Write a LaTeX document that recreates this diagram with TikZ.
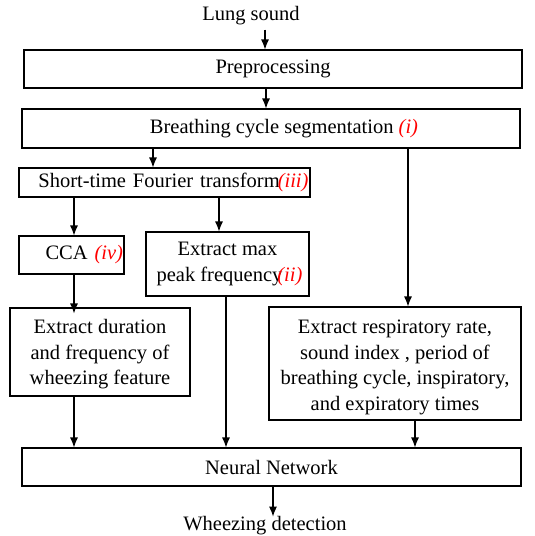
\documentclass[tikz,border=0pt]{standalone}
\usepackage{fontspec}
\setmainfont{Liberation Serif}
\usetikzlibrary{arrows.meta}
\newcommand{\rlab}[1]{\textcolor{red}{\itshape #1}}
\begin{document}
\begin{tikzpicture}[x=1pt,y=-1pt,
  box/.style={draw,line width=1.1pt,inner sep=0pt,align=center,font=\fontsize{20.5}{25.5}\selectfont},
  plain/.style={inner sep=0pt,font=\fontsize{20.5}{25.5}\selectfont},
  arr/.style={line width=1.1pt,-{Latex[length=10pt,width=8pt]}}]
\useasboundingbox (0,0) rectangle (535,536);
\node[plain,anchor=base] (lung) at (251,20) {Lung sound};
\node[box,minimum width=498pt,minimum height=38pt] (pre) at (273,69) {Preprocessing};
\node[box,minimum width=498pt,minimum height=39pt] (seg) at (271,128.5) {\hspace*{26pt}Breathing cycle segmentation \rlab{(i)}};
\node[box,minimum width=291pt,minimum height=29pt,text width=288pt,align=right] (stft) at (164.5,182.5) {Short-time Fourier transform\kern-2pt\rlab{(iii)}};
\node[box,minimum width=105pt,minimum height=38pt,text width=103pt,align=right] (cca) at (71.5,255) {CCA \rlab{(iv)}};
\node[box,minimum width=163pt,minimum height=64pt] (peak) at (227.5,264) {Extract max\\\hspace*{4pt}peak frequency\kern-5pt\rlab{(ii)}};
\node[box,minimum width=180pt,minimum height=88pt] (dur) at (100,352) {\rule{0pt}{19pt}Extract duration\\and frequency of\\wheezing feature};
\node[box,minimum width=252pt,minimum height=113pt] (resp) at (395,363.5) {\rule{0pt}{21pt}Extract respiratory rate,\\sound index , period of\\breathing cycle, inspiratory,\\and expiratory times};
\node[box,minimum width=499pt,minimum height=38pt] (nn) at (271.5,467) {Neural Network};
\node[plain,anchor=base] (wheeze) at (265,530) {Wheezing detection};
\draw[arr] ([yshift=-5pt]lung.south -| 265,0) -- (pre.north -| 265,0);
\draw[arr] (pre.south -| 266,0) -- (seg.north -| 266,0);
\draw[arr] (seg.south -| 153,0) -- (stft.north -| 153,0);
\draw[arr] (seg.south -| 408,0) -- (resp.north -| 408,0);
\draw[arr] (stft.south -| 74,0) -- (cca.north -| 74,0);
\draw[arr] (stft.south -| 219,0) -- (peak.north -| 219,0);
\draw[arr] (cca.south -| 74,0) -- ([yshift=-6pt]dur.north -| 74,0);
\draw[arr] (dur.south -| 74,0) -- (nn.north -| 74,0);
\draw[arr] (peak.south -| 226,0) -- (nn.north -| 226,0);
\draw[arr] ([yshift=1pt]resp.south -| 415,0) -- (nn.north -| 415,0);
\draw[arr] (nn.south -| 273,0) -- ([yshift=-1pt]wheeze.north -| 273,0);
\end{tikzpicture}
\end{document}
